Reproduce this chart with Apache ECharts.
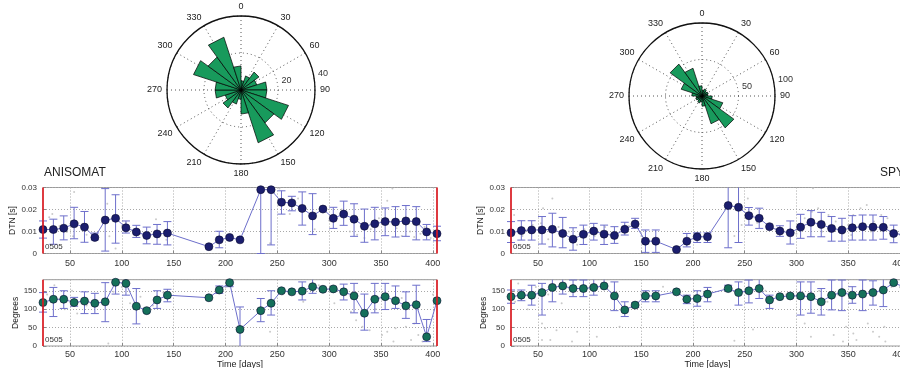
<!DOCTYPE html>
<html>
<head>
<meta charset="utf-8">
<script src="https://cdn.jsdelivr.net/npm/echarts@6/dist/echarts.min.js"></script>
<style>
  html, body { margin: 0; padding: 0; background: #fff; }
  #chart { width: 900px; height: 368px; }
</style>
</head>
<body>
<div id="chart"></div>
<script>
// ---- Rose diagrams: 18-degree bins (bin start angle, clockwise from north) ----
const roseBinStarts = [0, 18, 36, 54, 72, 90, 108, 126, 144, 162, 180, 198, 216, 234, 252, 270, 288, 306, 324, 342];
const roseBinWidth = 18;
const roseCountsA = [5, 8, 12, 9, 14, 14, 27, 22, 30, 13, 5, 8, 12, 9, 14, 14, 27, 22, 30, 13];
const roseCountsB = [8, 10, 8, 9, 8, 14, 30, 54, 40, 14, 8, 10, 8, 9, 8, 14, 30, 54, 40, 14];
const roseRingsA = [20, 40];
const roseRingsB = [50, 100];

// ---- Time series ----
const dayTicks = [50, 100, 150, 200, 250, 300, 350, 400];
const dayMin = 24;
const dayMax = 404;

// ANISOMAT
const daysA = [24, 34, 44, 54, 64, 74, 84, 94, 104, 114, 124, 134, 144, 184, 194, 204, 214,
  234, 244, 254, 264, 274, 284, 294, 304, 314, 324, 334, 344, 354, 364, 374, 384, 394, 404];
const dtnA = [0.0109, 0.0109, 0.0115, 0.0135, 0.0120, 0.0073, 0.0152, 0.0160, 0.0117, 0.0098, 0.0082, 0.0089, 0.0093,
  0.0031, 0.0062, 0.0073, 0.0062,
  0.0290, 0.0290, 0.0233, 0.0230, 0.0205, 0.0171, 0.0202, 0.0160, 0.0179, 0.0156, 0.0124, 0.0135, 0.0145, 0.0143, 0.0148, 0.0145, 0.0098, 0.0090];
const dtnALow = [0.0070, 0.0042, 0.0062, 0.0067, 0.0051, 0.0062, 0.0011, 0.0047, 0.0093, 0.0073, 0.0044, 0.0042, 0.0039,
  null, 0.0026, null, null,
  0.0000, 0.0039, 0.0179, 0.0194, 0.0129, 0.0086, null, 0.0114, 0.0128, 0.0078, 0.0051, 0.0062, 0.0081, 0.0075, 0.0078, 0.0062, 0.0062, 0.0058];
const dtnAHigh = [0.0148, 0.0156, 0.0171, 0.0210, 0.0191, 0.0093, 0.0295, 0.0267, 0.0148, 0.0128, 0.0120, 0.0132, 0.0145,
  null, 0.0101, null, null,
  0.0400, 0.0400, 0.0285, 0.0260, 0.0280, 0.0272, null, 0.0210, 0.0238, 0.0226, 0.0202, 0.0210, 0.0207, 0.0213, 0.0218, 0.0213, 0.0132, 0.0124];
const degA = [118, 127, 127, 118, 122, 116, 120, 173, 170, 108, 96, 125, 138,
  131, 152, 172, 45,
  96, 116, 150, 147, 149, 161, 154, 155, 147, 136, 89, 127, 134, 123, 109, 112, 25, 123];
const degALow = [92, 80, 102, 108, 88, 88, 66, 141, 138, 60, 93, 102, 120,
  null, 143, 161, -10,
  66, 84, null, null, 125, 143, null, null, 125, 90, 43, 90, 99, 102, 75, 61, 12, null];
const degAHigh = [145, 159, 150, 132, 147, 143, 172, 185, 181, 156, 102, 150, 154,
  null, 163, 185, 106,
  129, 150, null, null, 174, 185, null, null, 168, 170, 141, 170, 170, 163, 147, 165, 72, null];

// SPY
const daysB = [24, 34, 44, 54, 64, 74, 84, 94, 104, 114, 124, 134, 144, 154, 164, 184, 194, 204, 214,
  234, 244, 254, 264, 274, 284, 294, 304, 314, 324, 334, 344, 354, 364, 374, 384, 394, 404];
const dtnB = [0.0094, 0.0104, 0.0107, 0.0107, 0.0110, 0.0091, 0.0065, 0.0087, 0.0102, 0.0088, 0.0082, 0.0110, 0.0134, 0.0056, 0.0056,
  0.0018, 0.0056, 0.0076, 0.0076,
  0.0218, 0.0210, 0.0172, 0.0160, 0.0122, 0.0102, 0.0094, 0.0120, 0.0142, 0.0132, 0.0114, 0.0107, 0.0117, 0.0122, 0.0120, 0.0119, 0.0091, 0.0085];
const dtnBLow = [0.0050, 0.0061, 0.0061, 0.0043, 0.0030, 0.0026, 0.0015, 0.0041, 0.0061, 0.0041, 0.0046, 0.0084, 0.0114, 0.0005, 0.0005,
  null, 0.0030, 0.0050, 0.0050,
  0.0026, 0.0050, 0.0129, 0.0114, null, 0.0078, 0.0043, 0.0069, 0.0076, 0.0076, 0.0056, 0.0056, 0.0061, 0.0061, 0.0061, 0.0065, 0.0049, 0.0045];
const dtnBHigh = [0.0145, 0.0149, 0.0149, 0.0168, 0.0183, 0.0164, 0.0117, 0.0129, 0.0137, 0.0129, 0.0122, 0.0142, 0.0160, 0.0107, 0.0107,
  null, 0.0091, 0.0094, 0.0094,
  0.0400, 0.0400, 0.0209, 0.0206, null, 0.0126, 0.0148, 0.0178, 0.0195, 0.0187, 0.0168, 0.0160, 0.0172, 0.0175, 0.0175, 0.0168, 0.0129, 0.0125];
const degB = [134, 138, 138, 145, 159, 163, 156, 156, 159, 163, 136, 98, 111, 136, 136,
  147, 127, 129, 141,
  156, 145, 150, 156, 125, 134, 136, 136, 134, 120, 138, 145, 138, 141, 145, 152, 172, 160];
const degBLow = [116, 123, 111, 84, 120, 141, 134, 134, 138, 161, 96, 80, 105, 120, 120,
  null, 115, 108, 120,
  150, 111, 117, 129, 102, null, null, 84, 89, 84, 98, 96, 116, 96, 111, 107, null, null];
const degBHigh = [152, 152, 165, 170, 183, 183, 179, 179, 183, 181, 174, 120, 117, 150, 150,
  null, 138, 150, 159,
  165, 174, 179, 183, 138, null, null, 174, 174, 156, 179, 179, 161, 179, 177, 181, null, null];

// Individual measurements [day, value]
const dotsDtnA = [[30, 0.0165], [33, 0.0179], [40, 0.0125], [47, 0.0098], [54, 0.0280], [53, 0.0078], [58, 0.0140], [66, 0.0085],
  [86, 0.0226], [88, 0.0078], [94, 0.0023], [100, 0.0125], [104, 0.0140], [110, 0.0105], [118, 0.0090], [133, 0.0156],
  [138, 0.0085], [143, 0.0062], [243, 0.0047], [252, 0.0295], [262, 0.0180], [270, 0.0250], [286, 0.0110], [300, 0.0150],
  [312, 0.0200], [320, 0.0100], [327, 0.0085], [334, 0.0070], [340, 0.0110], [348, 0.0160], [356, 0.0240], [361, 0.0295],
  [365, 0.0115], [370, 0.0080], [374, 0.0130], [378, 0.0100], [382, 0.0075], [388, 0.0090], [392, 0.0120], [398, 0.0070], [402, 0.0105]];
const dotsDegA = [[28, 140], [35, 165], [45, 100], [52, 150], [57, 88], [66, 110], [75, 125], [87, 7], [92, 147], [100, 160],
  [108, 116], [118, 134], [130, 110], [140, 145], [200, 160], [243, 39], [255, 140], [275, 120], [290, 165], [305, 116],
  [315, 150], [321, 93], [326, 70], [332, 52], [339, 43], [345, 100], [351, 30], [356, 39], [362, 12], [364, 48], [370, 130],
  [374, 52], [379, 16], [382, 61], [386, 30], [390, 12], [395, 21], [400, 140]];
const dotsDtnB = [[27, 0.0175], [35, 0.0080], [45, 0.0130], [53, 0.0137], [55, 0.0206], [60, 0.0065], [64, 0.0250], [70, 0.0120],
  [80, 0.0100], [88, 0.0040], [95, 0.0110], [105, 0.0080], [115, 0.0120], [125, 0.0095], [138, 0.0125], [150, 0.0080],
  [240, 0.0080], [247, 0.0130], [253, 0.0250], [262, 0.0140], [280, 0.0110], [300, 0.0090], [308, 0.0160], [315, 0.0190],
  [316, 0.0297], [321, 0.0206], [325, 0.0100], [331, 0.0175], [338, 0.0145], [345, 0.0090], [350, 0.0130], [353, 0.0084],
  [355, 0.0175], [362, 0.0206], [368, 0.0220], [372, 0.0100], [375, 0.0145], [382, 0.0175], [388, 0.0160], [392, 0.0080]];
const dotsDegB = [[28, 120], [31, 170], [40, 100], [48, 160], [54, 61], [54, 16], [57, 48], [60, 140], [62, 16], [68, 43],
  [73, 116], [83, 12], [88, 39], [96, 150], [107, 25], [116, 165], [122, 130], [129, 52], [150, 140], [171, 161], [240, 14],
  [258, 45], [270, 150], [290, 140], [308, 61], [314, 25], [322, 150], [330, 120], [336, 30], [340, 140], [345, 12], [348, 52],
  [355, 34], [358, 16], [362, 150], [369, 61], [374, 39], [380, 25], [385, 52], [386, 12], [392, 160]];

// ---- Styling ----
const FONT = 'Liberation Sans, Arial, sans-serif';
const ROSE_GREEN = '#189a5c';
const ERR_BLUE = '#6d6fcb';
const DTN_MARK = '#1b1e6e';
const DEG_MARK = '#15705a';
const RED = '#e3161d';

const chart = echarts.init(document.getElementById('chart'), null, { renderer: 'canvas' });

// Rose wedge: triangle from the origin to the two bin edges at the count radius
function wedgeItem(params, api) {
  const a0 = api.value(0), a1 = api.value(1), r = api.value(2);
  const c = api.coord([0, a0]);
  const p1 = api.coord([r, a0]);
  const p2 = api.coord([r, a1]);
  return {
    type: 'polygon',
    shape: { points: [c, p1, p2] },
    style: { fill: ROSE_GREEN, stroke: '#000', lineWidth: 0.7 }
  };
}

// Ring value labels placed just beside each ring
function ringLabelItem(params, api) {
  const r = api.value(0), ang = api.value(1);
  const p = api.coord([r, ang]);
  return {
    type: 'text',
    x: p[0] + 4, y: p[1] + 1,
    style: { text: String(r), fill: '#333', font: '9px ' + FONT, align: 'left', verticalAlign: 'bottom' }
  };
}

// Vertical error bar with caps, clipped to the plotting rectangle
function errorBarItem(params, api) {
  const x = api.value(0), lo = api.value(1), hi = api.value(2);
  const cs = params.coordSys;
  const pLo = api.coord([x, lo]);
  const pHi = api.coord([x, hi]);
  const top = cs.y, bot = cs.y + cs.height;
  const y1 = Math.max(top, Math.min(bot, pHi[1]));
  const y2 = Math.max(top, Math.min(bot, pLo[1]));
  const half = 4;
  const st = { stroke: ERR_BLUE, lineWidth: 1 };
  const children = [{ type: 'line', shape: { x1: pLo[0], y1: y1, x2: pLo[0], y2: y2 }, style: st }];
  if (pHi[1] >= top && pHi[1] <= bot) {
    children.push({ type: 'line', shape: { x1: pHi[0] - half, y1: pHi[1], x2: pHi[0] + half, y2: pHi[1] }, style: st });
  }
  if (pLo[1] >= top && pLo[1] <= bot) {
    children.push({ type: 'line', shape: { x1: pLo[0] - half, y1: pLo[1], x2: pLo[0] + half, y2: pLo[1] }, style: st });
  }
  return { type: 'group', children: children };
}

function errData(days, lo, hi) {
  const out = [];
  days.forEach((d, i) => { if (lo[i] !== null && hi[i] !== null) out.push([d, lo[i], hi[i]]); });
  return out;
}

const grids = [
  { left: 43, top: 187.5, width: 394, height: 66 },
  { left: 43, top: 279.7, width: 394, height: 66.3 },
  { left: 511, top: 187.5, width: 393, height: 66 },
  { left: 511, top: 279.7, width: 393, height: 66.3 }
].map(g => Object.assign({
  show: true, borderColor: '#9a9a9a', borderWidth: 1, backgroundColor: 'transparent',
  outerBoundsMode: 'none', containLabel: false
}, g));

function xAxisFor(gi, bottom) {
  return {
    type: 'value', gridIndex: gi, min: dayMin, max: dayMax,
    axisLine: { show: false },
    axisTick: { show: true, inside: true, length: 3, customValues: dayTicks, lineStyle: { color: '#888' } },
    axisLabel: { customValues: dayTicks, fontSize: 9, color: '#333', fontFamily: FONT, margin: bottom ? 4 : 6 },
    splitLine: { show: true, lineStyle: { color: '#a8a8a8', type: [1, 2], width: 1 } },
    name: bottom ? 'Time [days]' : '', nameLocation: 'middle', nameGap: 14,
    nameTextStyle: { fontSize: 9, color: '#222', fontFamily: FONT }
  };
}

function yAxisFor(gi, isDtn) {
  return {
    type: 'value', gridIndex: gi, min: 0, max: isDtn ? 0.03 : 180, interval: isDtn ? 0.01 : 50,
    axisLine: { show: false },
    axisTick: { show: true, inside: true, length: 3, lineStyle: { color: '#888' } },
    axisLabel: {
      fontSize: 8, color: '#333', fontFamily: FONT, margin: 6, showMaxLabel: isDtn,
      formatter: v => isDtn ? (v === 0 ? '0' : v.toFixed(2)) : String(v)
    },
    splitLine: { show: true, lineStyle: { color: '#a8a8a8', type: [1, 2], width: 1 } },
    name: isDtn ? 'DTN [s]' : 'Degrees', nameLocation: 'middle', nameRotate: 90,
    nameGap: isDtn ? 24 : 21,
    nameTextStyle: { fontSize: 8.5, color: '#222', fontFamily: FONT }
  };
}

const redEdges = {
  silent: true, symbol: 'none', animation: false,
  label: { show: false },
  lineStyle: { color: RED, type: 'solid', width: 1.6 },
  data: [{ xAxis: dayMin }, { xAxis: dayMax }]
};

function panelSeries(gi, days, vals, lo, hi, dots, markColor) {
  return [
    {
      type: 'scatter', xAxisIndex: gi, yAxisIndex: gi, data: dots,
      symbolSize: 2, itemStyle: { color: '#bdbdbd' }, silent: true, z: 2
    },
    {
      type: 'custom', xAxisIndex: gi, yAxisIndex: gi, data: errData(days, lo, hi),
      renderItem: errorBarItem, silent: true, z: 3
    },
    {
      type: 'line', xAxisIndex: gi, yAxisIndex: gi,
      data: days.map((d, i) => [d, vals[i]]),
      symbol: 'circle', symbolSize: 8,
      itemStyle: { color: markColor, borderColor: '#0a0c30', borderWidth: 0.6 },
      lineStyle: { color: ERR_BLUE, width: 1 },
      markLine: redEdges, silent: true, z: 4
    }
  ];
}

const polarAngle = i => ({
  polarIndex: i, type: 'value', min: 0, max: 360, interval: 30, startAngle: 90, clockwise: true,
  axisLine: { show: true, lineStyle: { color: '#111', width: 1.3 } },
  axisTick: { show: false },
  axisLabel: { show: true, color: '#222', fontSize: 9, fontFamily: FONT, margin: 5, formatter: v => v === 360 ? '' : String(v) },
  splitLine: { show: true, lineStyle: { color: '#555', type: [1, 3], width: 1 } }
});
const polarRadius = (i, rings) => ({
  polarIndex: i, type: 'value', min: 0, max: rings[rings.length - 1], interval: rings[0],
  axisLine: { show: false }, axisTick: { show: false }, axisLabel: { show: false },
  splitLine: { show: true, lineStyle: { color: '#555', type: [1, 3], width: 1 } }
});

const option = {
  animation: false,
  backgroundColor: '#fff',
  textStyle: { fontFamily: FONT },
  polar: [
    { center: [241, 90], radius: 74 },
    { center: [702, 96], radius: 73 }
  ],
  angleAxis: [polarAngle(0), polarAngle(1)],
  radiusAxis: [polarRadius(0, roseRingsA), polarRadius(1, roseRingsB)],
  grid: grids,
  xAxis: [xAxisFor(0, false), xAxisFor(1, true), xAxisFor(2, false), xAxisFor(3, true)],
  yAxis: [yAxisFor(0, true), yAxisFor(1, false), yAxisFor(2, true), yAxisFor(3, false)],
  graphic: [
    { type: 'text', left: 44, top: 167, style: { text: 'ANISOMAT', font: '12px ' + FONT, fill: '#222' } },
    { type: 'text', x: 880, y: 167, style: { text: 'SPY', font: '12px ' + FONT, fill: '#222' } },
    { type: 'text', left: 45, top: 243, style: { text: '0505', font: '8px ' + FONT, fill: '#333' }, z: 10 },
    { type: 'text', left: 45, top: 336, style: { text: '0505', font: '8px ' + FONT, fill: '#333' }, z: 10 },
    { type: 'text', left: 513, top: 243, style: { text: '0505', font: '8px ' + FONT, fill: '#333' }, z: 10 },
    { type: 'text', left: 513, top: 336, style: { text: '0505', font: '8px ' + FONT, fill: '#333' }, z: 10 }
  ],
  series: [
    {
      type: 'custom', coordinateSystem: 'polar', polarIndex: 0,
      data: roseBinStarts.map((a, i) => [a, a + roseBinWidth, roseCountsA[i]]),
      renderItem: wedgeItem, silent: true, z: 3
    },
    {
      type: 'custom', coordinateSystem: 'polar', polarIndex: 1,
      data: roseBinStarts.map((a, i) => [a, a + roseBinWidth, roseCountsB[i]]),
      renderItem: wedgeItem, silent: true, z: 3
    },
    {
      type: 'custom', coordinateSystem: 'polar', polarIndex: 0,
      data: roseRingsA.map(r => [r, 80]), renderItem: ringLabelItem, silent: true, z: 4
    },
    {
      type: 'custom', coordinateSystem: 'polar', polarIndex: 1,
      data: roseRingsB.map(r => [r, 80]), renderItem: ringLabelItem, silent: true, z: 4
    },
    ...panelSeries(0, daysA, dtnA, dtnALow, dtnAHigh, dotsDtnA, DTN_MARK),
    ...panelSeries(1, daysA, degA, degALow, degAHigh, dotsDegA, DEG_MARK),
    ...panelSeries(2, daysB, dtnB, dtnBLow, dtnBHigh, dotsDtnB, DTN_MARK),
    ...panelSeries(3, daysB, degB, degBLow, degBHigh, dotsDegB, DEG_MARK)
  ]
};

chart.setOption(option);
</script>
</body>
</html>
